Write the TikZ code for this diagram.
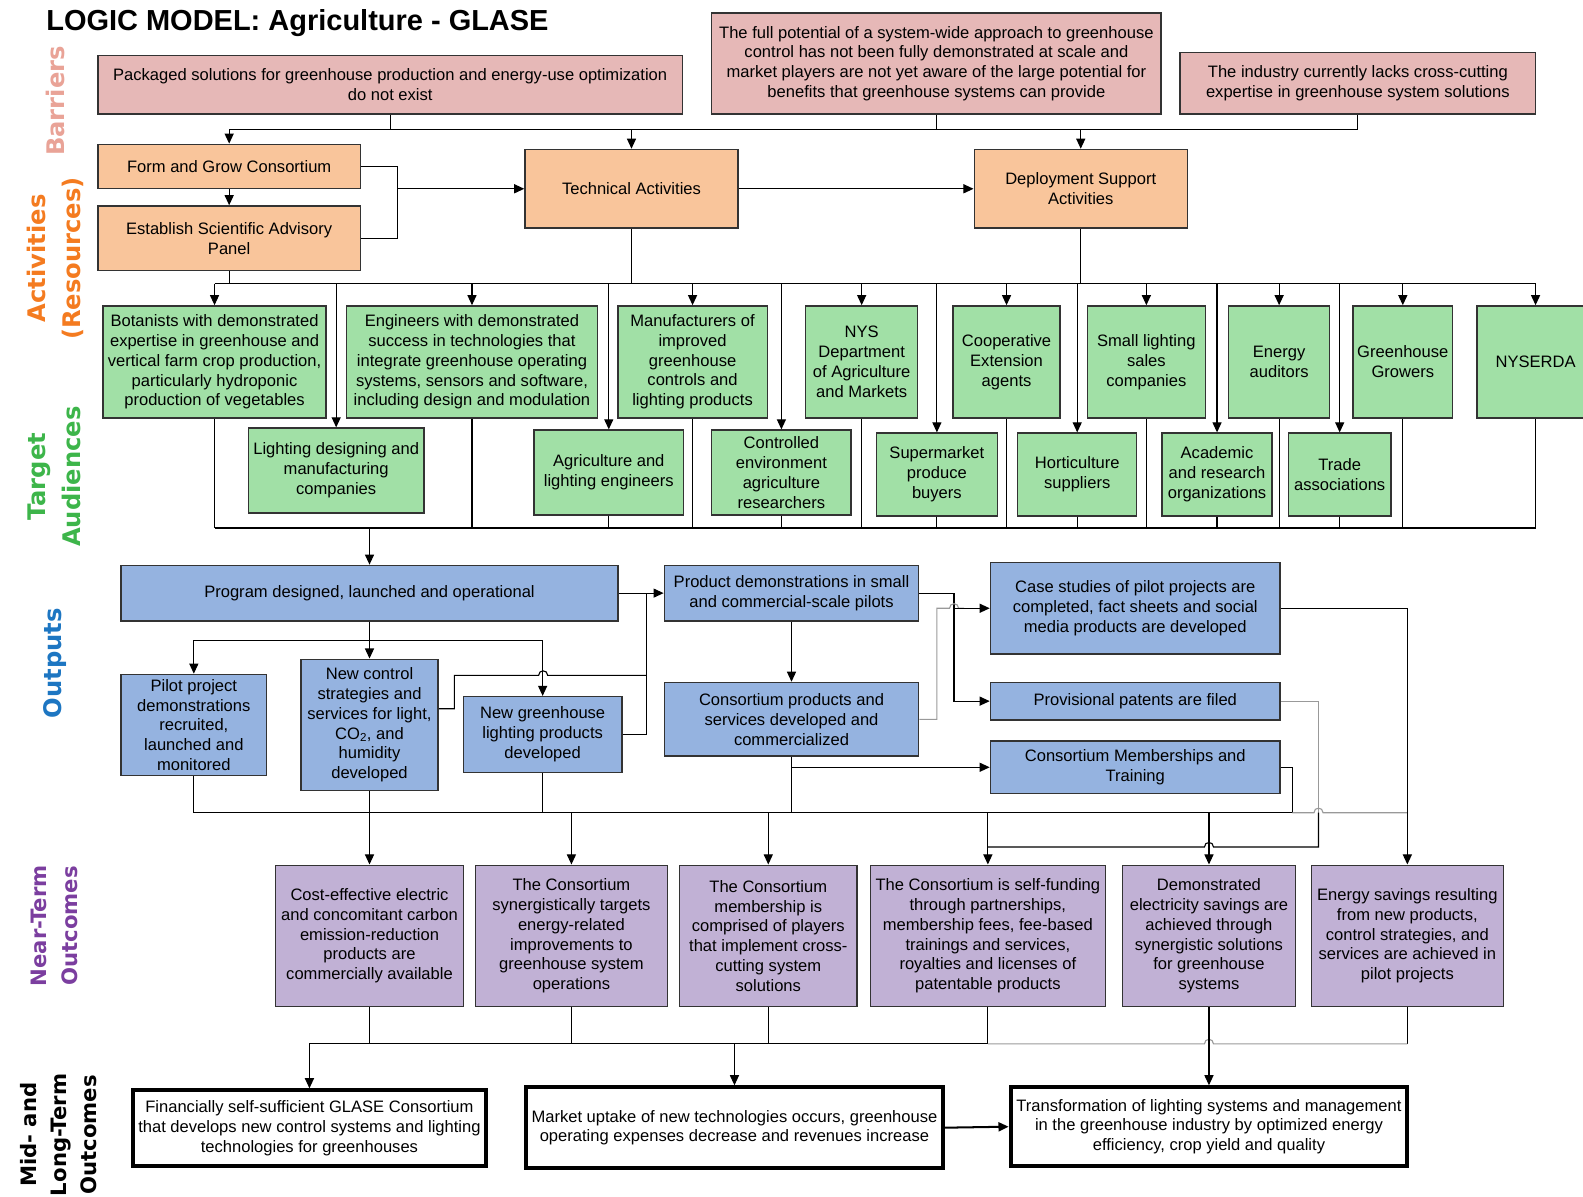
\documentclass[tikz,border=0pt]{standalone}
\usepackage{fontspec}
\setmainfont{Liberation Sans}
\newfontfamily\sidefont{DejaVu Sans}
\usetikzlibrary{arrows.meta}

\definecolor{barfill}{HTML}{E6B8B7}
\definecolor{actfill}{HTML}{F9C59B}
\definecolor{audfill}{HTML}{A1E0A6}
\definecolor{outfill}{HTML}{95B3E0}
\definecolor{nearfill}{HTML}{C1B1D5}
\definecolor{barlab}{HTML}{E9A397}
\definecolor{actlab}{HTML}{F47B20}
\definecolor{audlab}{HTML}{3DB54A}
\definecolor{outlab}{HTML}{1D76C2}
\definecolor{nearlab}{HTML}{7B3E9F}

\newcommand{\boxfont}{\fontsize{16.4}{19.6}\selectfont}
\newcommand{\sidelab}{\sidefont\bfseries\fontsize{24}{35}\selectfont}
\newcommand{\sidelabsmall}{\sidefont\bfseries\fontsize{21}{30}\selectfont}

\begin{document}
\begin{tikzpicture}[x=1pt, y=-1pt, line width=1.1pt,
  lmbox/.style={draw=black!80, line width=1.4pt, align=center, inner sep=0pt, font=\boxfont},
  barbox/.style={lmbox, fill=barfill},
  actbox/.style={lmbox, fill=actfill},
  audbox/.style={lmbox, fill=audfill},
  outbox/.style={lmbox, fill=outfill},
  nearbox/.style={lmbox, fill=nearfill},
  farbox/.style={lmbox, fill=white, draw=black, line width=4pt},
  arr/.style={-{Triangle[length=10pt,width=9pt]}},
  grayline/.style={draw=black!40},
  sidelabel/.style={rotate=90, align=center, font=\sidelab}]
  \useasboundingbox (0,0) rectangle (1568,1185);
  \clip (0,0) rectangle (1568,1185);

  \node[anchor=base west, font=\bfseries\fontsize{28.7}{34}\selectfont] (title) at (42,30)
    {LOGIC MODEL: Agriculture - GLASE};

  % row labels
  \node[sidelabel, text=barlab] (lbar) at (55,100) {Barriers};
  \node[sidelabel, text=actlab] (lact) at (55,256) {Activities\\(Resources)};
  \node[sidelabel, text=audlab] (laud) at (54,472) {Target\\Audiences};
  \node[sidelabel, text=outlab] (lout) at (55,657) {Outputs};
  \node[sidelabel, text=nearlab, font=\sidelabsmall] (lnear) at (54,917) {Near-Term\\Outcomes};
  \node[sidelabel, font=\sidelabsmall] (lfar) at (58,1124) {Mid- and\\Long-Term\\Outcomes};

  % barriers
  \node[barbox, minimum width=579, minimum height=58] (b1) at (386.5,84)
    {Packaged solutions for greenhouse production and energy-use optimization\\do not exist};
  \node[barbox, minimum width=445, minimum height=100] (b2) at (927.5,63)
    {The full potential of a system-wide approach to greenhouse\\control has not been fully demonstrated at scale and\\market players are not yet aware of the large potential for\\benefits that greenhouse systems can provide};
  \node[barbox, minimum width=352, minimum height=61] (b3) at (1345,82.5)
    {The industry currently lacks cross-cutting\\expertise in greenhouse system solutions};

  % activities
  \node[actbox, minimum width=260, minimum height=44] (a1) at (227,165) {Form and Grow Consortium};
  \node[actbox, minimum width=260, minimum height=64] (a2) at (227,236) {Establish Scientific Advisory\\Panel};
  \node[actbox, minimum width=211, minimum height=78] (tech) at (625.5,187) {Technical Activities};
  \node[actbox, minimum width=211, minimum height=78] (dep) at (1070.5,187) {Deployment Support\\Activities};

  % target audiences, upper row
  \node[audbox, minimum width=221, minimum height=111] (g1) at (212.5,358.5)
    {Botanists with demonstrated\\expertise in greenhouse and\\vertical farm crop production,\\particularly hydroponic\\production of vegetables};
  \node[audbox, minimum width=249, minimum height=111] (g2) at (467.5,358.5)
    {Engineers with demonstrated\\success in technologies that\\integrate greenhouse operating\\systems, sensors and software,\\including design and modulation};
  \node[audbox, minimum width=148, minimum height=111] (g3) at (686,358.5)
    {Manufacturers of\\improved\\greenhouse\\controls and\\lighting products};
  \node[audbox, minimum width=111, minimum height=111] (g4) at (853.5,358.5)
    {NYS\\Department\\of Agriculture\\and Markets};
  \node[audbox, minimum width=106, minimum height=111] (g5) at (997,358.5)
    {Cooperative\\Extension\\agents};
  \node[audbox, minimum width=117, minimum height=111] (g6) at (1135.5,358.5)
    {Small lighting\\sales\\companies};
  \node[audbox, minimum width=100, minimum height=111] (g7) at (1267,358.5) {Energy\\auditors};
  \node[audbox, minimum width=99, minimum height=111] (g8) at (1389.5,358.5) {Greenhouse\\Growers};
  \node[audbox, minimum width=116, minimum height=111] (g9) at (1521,358.5) {NYSERDA};

  % target audiences, lower row
  \node[audbox, minimum width=174, minimum height=84] (h1) at (333,466)
    {Lighting designing and\\manufacturing\\companies};
  \node[audbox, minimum width=148, minimum height=84] (h2) at (603,468)
    {Agriculture and\\lighting engineers};
  \node[audbox, minimum width=138, minimum height=84] (h3) at (774,468)
    {Controlled\\environment\\agriculture\\researchers};
  \node[audbox, minimum width=120, minimum height=82] (h4) at (928,470)
    {Supermarket\\produce\\buyers};
  \node[audbox, minimum width=118, minimum height=82] (h5) at (1067,470)
    {Horticulture\\suppliers};
  \node[audbox, minimum width=109, minimum height=82] (h6) at (1205.5,470)
    {Academic\\and research\\organizations};
  \node[audbox, minimum width=102, minimum height=82] (h7) at (1327,470)
    {Trade\\associations};

  % outputs
  \node[outbox, minimum width=492, minimum height=55] (prog) at (366,587.5)
    {Program designed, launched and operational};
  \node[outbox, minimum width=252, minimum height=55] (demo) at (784,587.5)
    {Product demonstrations in small\\and commercial-scale pilots};
  \node[outbox, minimum width=287, minimum height=91] (case) at (1124.5,602.5)
    {Case studies of pilot projects are\\completed, fact sheets and social\\media products are developed};
  \node[outbox, minimum width=144, minimum height=100] (pilot) at (192,718)
    {Pilot project\\demonstrations\\recruited,\\launched and\\monitored};
  \node[outbox, minimum width=136, minimum height=130] (ctrl) at (366,718)
    {New control\\strategies and\\services for light,\\CO\textsubscript{2}, and\\humidity\\developed};
  \node[outbox, minimum width=157, minimum height=75] (newlight) at (537.5,727.5)
    {New greenhouse\\lighting products\\developed};
  \node[outbox, minimum width=252, minimum height=73] (prod) at (784,712.5)
    {Consortium products and\\services developed and\\commercialized};
  \node[outbox, minimum width=287, minimum height=37] (patent) at (1124.5,694.5)
    {Provisional patents are filed};
  \node[outbox, minimum width=287, minimum height=52] (memb) at (1124.5,760)
    {Consortium Memberships and\\Training};

  % near-term outcomes
  \node[nearbox, minimum width=186, minimum height=140] (n1) at (366,927)
    {Cost-effective electric\\and concomitant carbon\\emission-reduction\\products are\\commercially available};
  \node[nearbox, minimum width=190, minimum height=140] (n2) at (566,927)
    {The Consortium\\synergistically targets\\energy-related\\improvements to\\greenhouse system\\operations};
  \node[nearbox, minimum width=176, minimum height=140] (n3) at (761,927)
    {The Consortium\\membership is\\comprised of players\\that implement cross-\\cutting system\\solutions};
  \node[nearbox, minimum width=233, minimum height=140] (n4) at (978.5,927)
    {The Consortium is self-funding\\through partnerships,\\membership fees, fee-based\\trainings and services,\\royalties and licenses of\\patentable products};
  \node[nearbox, minimum width=171, minimum height=140] (n5) at (1197.5,927)
    {Demonstrated\\electricity savings are\\achieved through\\synergistic solutions\\for greenhouse\\systems};
  \node[nearbox, minimum width=190, minimum height=140] (n6) at (1394,927)
    {Energy savings resulting\\from new products,\\control strategies, and\\services are achieved in\\pilot projects};

  % mid- and long-term outcomes
  \node[farbox, minimum width=349, minimum height=75] (m1) at (306.5,1117.5)
    {Financially self-sufficient GLASE Consortium\\that develops new control systems and lighting\\technologies for greenhouses};
  \node[farbox, minimum width=413, minimum height=80] (m2) at (727.5,1117)
    {Market uptake of new technologies occurs, greenhouse\\operating expenses decrease and revenues increase};
  \node[farbox, minimum width=393, minimum height=78] (m3) at (1197.5,1116)
    {Transformation of lighting systems and management\\in the greenhouse industry by optimized energy\\efficiency, crop yield and quality};

  % barriers -> activities
  \coordinate (busB) at (0,128);
  \draw (b1.south) -- (b1.south |- busB);
  \draw (b2.south) -- (b2.south |- busB);
  \draw (b3.south) -- (b3.south |- busB) -- (a1.north |- busB);
  \draw[arr] (a1.north |- busB) -- (a1.north);
  \draw[arr] (tech.north |- busB) -- (tech.north);
  \draw[arr] (dep.north |- busB) -- (dep.north);

  \coordinate (jA) at (394,187);
  \draw[arr] (a1.south) -- (a2.north);
  \draw (a1.east) -| (jA) |- (a2.east);
  \draw[arr] (jA) -- (tech.west);
  \draw[arr] (tech.east) -- (dep.west);

  % activities -> audiences
  \coordinate (busT) at (0,281);
  \draw (a2.south) -- (a2.south |- busT);
  \draw (tech.south) -- (tech.south |- busT);
  \draw (dep.south) -- (dep.south |- busT);
  \draw (g1.north |- busT) -- (g9.north |- busT);
  \foreach \n in {g1,g2,g3,g4,g5,g6,g7,g8,g9,h1,h2,h3,h4,h5,h6,h7}
    \draw[arr] (\n.north |- busT) -- (\n.north);

  % audiences -> outputs
  \coordinate (busC) at (0,523);
  \foreach \n in {g1,g2,g3,g4,g5,g6,g7,g8,g9,h2,h3,h4,h5,h6,h7}
    \draw (\n.south) -- (\n.south |- busC);
  \draw (g1.south |- busC) -- (g9.south |- busC);
  \draw[arr] (prog.north |- busC) -- (prog.north);

  % outputs
  \draw[arr] (prog.east) -- (demo.west);
  \coordinate (jO) at (640,587.5);
  \draw (newlight.east) -| (jO);
  \draw ([yshift=16pt]ctrl.east) -- (450,702) -- (450,669) -- (533.5,669)
    .. controls (533.5,663) and (542.5,663) .. (542.5,669) -- (640,669);
  \coordinate (busO) at (0,634);
  \draw[arr] (prog.south) -- (ctrl.north);
  \draw (pilot.north |- busO) -- (newlight.north |- busO);
  \draw[arr] (pilot.north |- busO) -- (pilot.north);
  \draw[arr] (newlight.north |- busO) -- (newlight.north);

  \coordinate (jD) at (945,694.5);
  \draw[arr] (demo.east) -| (jD) -- (patent.west);
  \draw[grayline] (prod.east) -| (928,602.5) -- (940.5,602.5)
    .. controls (940.5,596.5) and (949.5,596.5) .. (949.5,602.5) -- (955,602.5);
  \draw[arr] (jD |- case.west) -- (case.west);
  \draw[arr] (demo.south) -- (prod.north);

  % outputs -> near-term outcomes
  \coordinate (busN) at (0,805);
  \coordinate (jM) at (1280,805);
  \draw (prod.south) -- (prod.south |- busN);
  \draw[arr] (prod.south |- memb.west) -- (memb.west);
  \draw (memb.east) -| (jM);
  \draw (pilot.south) -- (pilot.south |- busN) -- (jM);
  \draw (newlight.south) -- (newlight.south |- busN);
  \draw[arr] (ctrl.south) -- (n1.north);
  \coordinate (jQ) at (1306,839);
  \draw[grayline] (patent.east) -| (jQ |- busN);
  \draw (jQ |- busN) -- (jQ) -- (1202,839) .. controls (1202,833) and (1193,833) .. (1193,839) -- (n4.north |- jQ);
  \draw[grayline] (jM) -- (1301.5,805)
    .. controls (1301.5,799) and (1310.5,799) .. (1310.5,805) -- (n6.north |- busN);
  \draw[arr] (case.east) -| (n6.north);
  \foreach \n in {n2,n3,n4,n5}
    \draw[arr] (\n.north |- busN) -- (\n.north);

  % near-term -> mid- and long-term
  \coordinate (busL) at (0,1034);
  \foreach \n in {n1,n2,n3,n4,n6}
    \draw (\n.south) -- (\n.south |- busL);
  \draw (m1.north |- busL) -- (n4.south |- busL);
  \draw[grayline] (n4.south |- busL) -- (1193,1034)
    .. controls (1193,1028) and (1202,1028) .. (1202,1034) -- (n6.south |- busL);
  \draw[arr] (n5.south) -- (m3.north);
  \draw[arr] (m1.north |- busL) -- (m1.north);
  \draw[arr] (m2.north |- busL) -- (m2.north);
  \draw[arr, line width=2pt] (m2.east) -- (m3.west);
\end{tikzpicture}
\end{document}
